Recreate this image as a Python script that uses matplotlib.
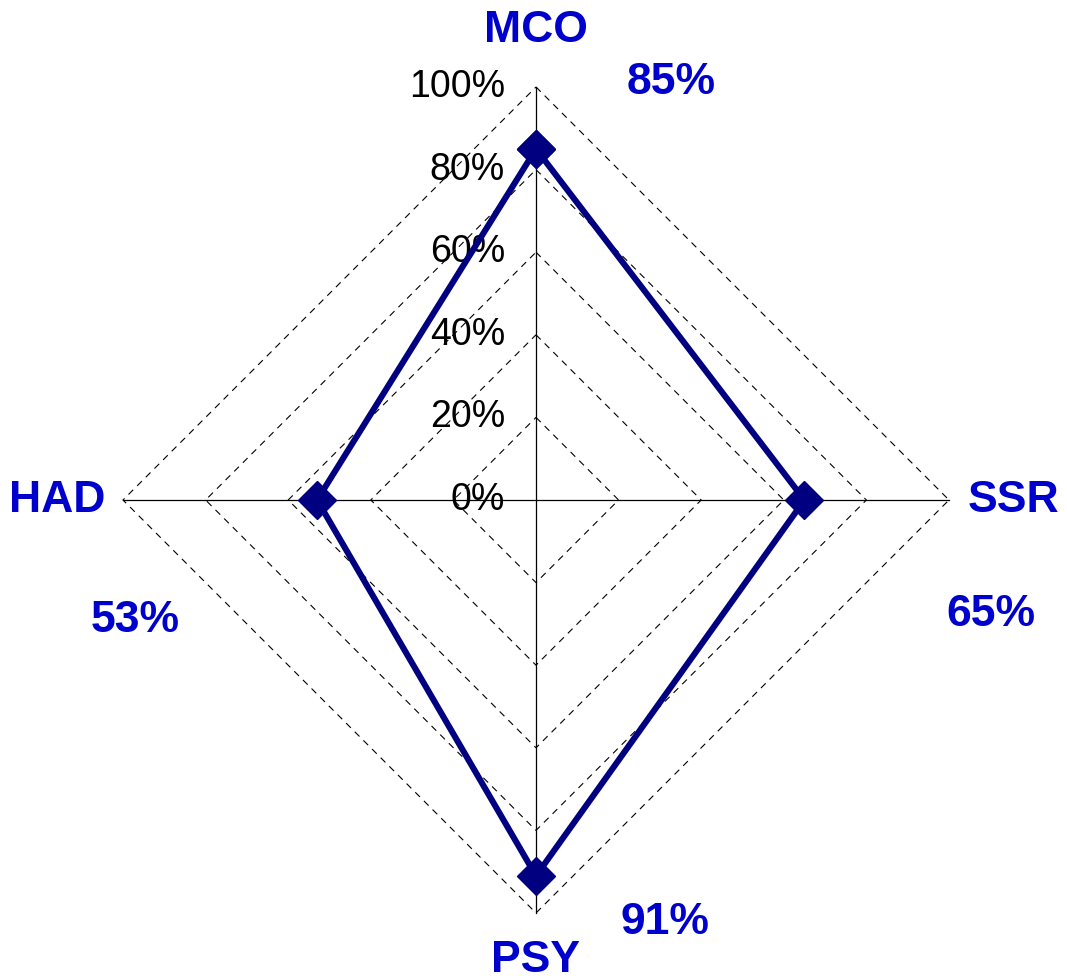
import numpy as np
import matplotlib.pyplot as plt

plt.rcParams['font.family'] = ['Liberation Sans', 'DejaVu Sans']

# scores per axis, clockwise from the top
categories = ['MCO', 'SSR', 'PSY', 'HAD']
values = [85, 65, 91, 53]
grid_levels = [20, 40, 60, 80, 100]
tick_labels = ['0%', '20%', '40%', '60%', '80%', '100%']

# where the category names and the value labels sit (in radius units)
name_pos = [(0.0, 1.136), (1.157, 0.0), (0.0, -1.116), (-1.16, 0.0)]
value_pos = [(0.327, 1.012), (1.102, -0.278), (0.312, -1.022), (-0.971, -0.291)]

line_col = '#000080'
label_col = '#0000CC'

angles = np.pi / 2 - np.arange(len(categories)) * 2 * np.pi / len(categories)
ux, uy = np.cos(angles), np.sin(angles)

fig = plt.figure(figsize=(10.67, 9.8), dpi=100)
ax = fig.add_axes([0, 0, 1, 1])
R = 413.0
cx, cy = 536.0, 500.0
ax.set_xlim(-cx / R, (1067 - cx) / R)
ax.set_ylim(-(980 - cy) / R, cy / R)
ax.axis('off')

# dashed grid diamonds
for lv in grid_levels:
    r = lv / 100
    ax.plot(np.append(ux, ux[0]) * r, np.append(uy, uy[0]) * r,
            color='black', lw=0.8, ls=(0, (6, 5)), zorder=1)

# spokes
for x, y in zip(ux, uy):
    ax.plot([0, x], [0, y], color='black', lw=0.9, zorder=2)

# radial tick labels along the top spoke
for i, t in enumerate(tick_labels):
    ax.text(-0.075, i * 0.2, t, ha='right', va='center', fontsize=27, color='black')

# data polygon
r = np.array(values) / 100
px, py = ux * r, uy * r
ax.plot(np.append(px, px[0]), np.append(py, py[0]), color=line_col, lw=4.4,
        marker='D', ms=19, mec=line_col, mfc=line_col, zorder=3)

for name, (nx, ny) in zip(categories, name_pos):
    ax.text(nx, ny, name, ha='center', va='center', fontsize=32,
            fontweight='bold', color=label_col)
for v, (vx, vy) in zip(values, value_pos):
    ax.text(vx, vy, f'{v}%', ha='center', va='center', fontsize=32,
            fontweight='bold', color=label_col)

fig.savefig('out.png', dpi=100)
